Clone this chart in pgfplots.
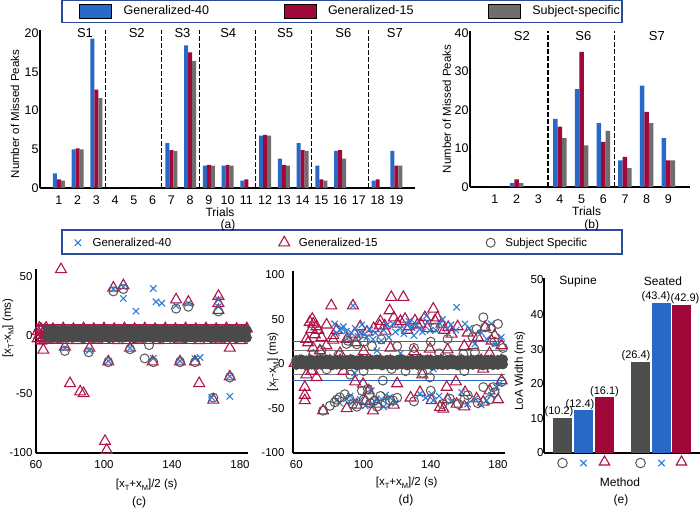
\documentclass[border=0pt]{standalone}
\usepackage{pgfplots}
\usepackage{pgfplotstable}
\pgfplotsset{compat=1.18}
\usepackage{fontspec}
\setmainfont{Liberation Sans}
\definecolor{blueC}{RGB}{40,105,200}
\definecolor{redC}{RGB}{160,8,58}
\definecolor{grayC}{RGB}{110,110,110}
\definecolor{grayE}{RGB}{78,78,78}
\definecolor{blueS}{RGB}{45,125,215}
\definecolor{redS}{RGB}{175,20,70}
\definecolor{grayS}{RGB}{88,88,88}
\definecolor{bandG}{RGB}{74,74,74}
\definecolor{frameC}{RGB}{45,75,155}
\newcommand\sub[1]{\raisebox{-0.45ex}{\fontsize{7.5}{8}\selectfont #1}}
\tikzset{
  redTri/.style={only marks, mark=triangle, mark size=6.3pt, color=redS, mark options={draw=redS, line width=1.1pt, fill=none}},
  blueX/.style={only marks, mark=x, mark size=4.5pt, color=blueS, mark options={draw=blueS, line width=1.1pt}},
  grayO/.style={only marks, mark=o, mark size=4.5pt, color=grayS, mark options={draw=grayS, line width=1pt, fill=none}},
  grayB/.style={only marks, mark=*, mark size=4.5pt, color=bandG, mark options={draw=bandG, fill=bandG, line width=1pt}},
}
\pgfplotsset{
  myaxis/.style={scale only axis, axis x line*=bottom, axis y line*=left,
    axis line style={-, line width=1.1pt, black},
    major tick length=0pt, clip=false,
    /pgf/number format/assume math mode=true,
    label style={font=\fontsize{11.5}{12}\selectfont}},
  patch legend/.style={legend image code/.code={\draw[##1] (0pt,-7pt) rectangle (32pt,7pt);}},
  mark legend/.style={legend image code/.code={\path (-6.5pt,0pt) (6.5pt,0pt); \draw[##1] plot coordinates {(0pt,0pt)};}},
}
\pgfplotstableread{
t g40 g15 ss
1 1.9 1.1 0.95
2 5.0 5.1 5.0
3 19.3 12.7 11.6
4 0 0 0
5 0 0 0
6 0 0 0
7 5.8 4.9 4.8
8 18.4 17.5 16.4
9 2.9 3.0 2.9
10 2.9 3.0 2.9
11 0.95 1.1 0
12 6.75 6.85 6.75
13 3.8 3.0 2.9
14 5.8 4.9 4.8
15 2.9 1.1 0.95
16 4.8 4.9 3.8
17 0 0 0
18 0.95 1.1 0
19 4.8 2.9 2.9
}\dataA
\pgfplotstableread{
t g40 g15 ss
1 0 0 0
2 1.0 2.0 1.0
3 0 0 0
4 17.7 15.7 12.7
5 25.4 35.1 10.8
6 16.6 11.7 14.6
7 6.9 7.8 4.9
8 26.3 19.5 16.6
9 12.7 6.9 6.9
}\dataB
\pgfplotstableread{
x t b
67 4 -2
70 4.6 -1.4
73 3.6 -2.6
76 4.2 -1.8
79 3.8 -2.2
82 4 -2
85 4.6 -1.4
88 3.6 -2.6
91 4.2 -1.8
94 3.8 -2.2
97 4 -2
100 4.6 -1.4
103 3.6 -2.6
106 4.2 -1.8
109 3.8 -2.2
112 4 -2
115 4.6 -1.4
118 3.6 -2.6
121 4.2 -1.8
124 3.8 -2.2
127 4 -2
130 4.6 -1.4
133 3.6 -2.6
136 4.2 -1.8
139 3.8 -2.2
142 4 -2
145 4.6 -1.4
148 3.6 -2.6
151 4.2 -1.8
154 3.8 -2.2
157 4 -2
160 4.6 -1.4
163 3.6 -2.6
166 4.2 -1.8
169 3.8 -2.2
172 4 -2
175 4.6 -1.4
178 3.6 -2.6
181 4.2 -1.8
184 3.8 -2.2
}\bandC
\pgfplotstableread{
x t b
60 4.5 -1
63 5.1 -0.4
66 4.1 -1.6
69 4.7 -0.8
72 4.3 -1.2
75 4.5 -1
78 5.1 -0.4
81 4.1 -1.6
84 4.7 -0.8
87 4.3 -1.2
90 4.5 -1
93 5.1 -0.4
96 4.1 -1.6
99 4.7 -0.8
102 4.3 -1.2
105 4.5 -1
108 5.1 -0.4
111 4.1 -1.6
114 4.7 -0.8
117 4.3 -1.2
120 4.5 -1
123 5.1 -0.4
126 4.1 -1.6
129 4.7 -0.8
132 4.3 -1.2
135 4.5 -1
138 5.1 -0.4
141 4.1 -1.6
144 4.7 -0.8
147 4.3 -1.2
150 4.5 -1
153 5.1 -0.4
156 4.1 -1.6
159 4.7 -0.8
162 4.3 -1.2
165 4.5 -1
168 5.1 -0.4
171 4.1 -1.6
174 4.7 -0.8
177 4.3 -1.2
180 4.5 -1
183 5.1 -0.4
}\bandD
\begin{document}
\begin{tikzpicture}[x=1pt,y=1pt]
\useasboundingbox (0,0) rectangle (700,509);
\draw[frameC, line width=1.3pt] (62,508.3) rectangle (622,486.5);
\draw[frameC, line width=1.3pt] (62,279) rectangle (622,255);

% ---------------- (a)
\begin{axis}[myaxis, at={(40pt,321pt)}, anchor=south west, width=375pt, height=158pt,
  xmin=0, xmax=20, ymin=0, ymax=20.4,
  xtick={1,...,19}, ytick={0,5,10,15,20},
  tick label style={font=\fontsize{12.5}{13}\selectfont},
  xticklabel style={yshift=-4.5pt}, yticklabel style={xshift=2pt},
  ylabel={Number of Missed Peaks},
  ylabel style={at={(axis description cs:-0.0667,0.468)}, anchor=center},
  xlabel={Trials},
  xlabel style={at={(axis description cs:0.48,-0.152)}, anchor=center, font=\fontsize{12}{12}\selectfont},
  legend style={at={(axis description cs:0.104,1.1203)}, anchor=west, draw=none, fill=none,
    legend columns=3, inner sep=0pt, nodes={inner sep=0pt, font=\fontsize{12.5}{13}\selectfont},
    /tikz/every odd column/.append style={column sep=12pt},
    /tikz/every even column/.append style={column sep=10pt}},
  legend cell align=left]
\addlegendimage{patch legend, fill=blueC, draw=none}
\addlegendentry{\makebox[150pt][l]{Generalized-40}}
\addlegendimage{patch legend, fill=redC, draw=none}
\addlegendentry{\makebox[150pt][l]{Generalized-15}}
\addlegendimage{patch legend, fill=grayC, draw=none}
\addlegendentry{\makebox[110pt][l]{Subject-specific}}
\addplot[ybar, bar width=4pt, bar shift=-4pt, fill=blueC, draw=none, forget plot] table[x=t,y=g40] {\dataA};
\addplot[ybar, bar width=4pt, bar shift=0pt, fill=redC, draw=none, forget plot] table[x=t,y=g15] {\dataA};
\addplot[ybar, bar width=4pt, bar shift=4pt, fill=grayC, draw=none, forget plot] table[x=t,y=ss] {\dataA};
\addplot[black, line width=1.1pt, dash pattern=on 4.5pt off 2.5pt, forget plot] coordinates {(3.5,0) (3.5,20.4)};
\addplot[black, line width=1.1pt, dash pattern=on 4.5pt off 2.5pt, forget plot] coordinates {(6.5,0) (6.5,20.4)};
\addplot[black, line width=1.1pt, dash pattern=on 4.5pt off 2.5pt, forget plot] coordinates {(8.5,0) (8.5,20.4)};
\addplot[black, line width=1.1pt, dash pattern=on 4.5pt off 2.5pt, forget plot] coordinates {(11.5,0) (11.5,20.4)};
\addplot[black, line width=1.1pt, dash pattern=on 4.5pt off 2.5pt, forget plot] coordinates {(14.5,0) (14.5,20.4)};
\addplot[black, line width=1.1pt, dash pattern=on 4.5pt off 2.5pt, forget plot] coordinates {(17.5,0) (17.5,20.4)};
\node[font=\fontsize{13}{13}\selectfont] at (axis cs:2.4,20) {S1};
\node[font=\fontsize{13}{13}\selectfont] at (axis cs:5.16,20) {S2};
\node[font=\fontsize{13}{13}\selectfont] at (axis cs:7.6,20) {S3};
\node[font=\fontsize{13}{13}\selectfont] at (axis cs:10.04,20) {S4};
\node[font=\fontsize{13}{13}\selectfont] at (axis cs:13.07,20) {S5};
\node[font=\fontsize{13}{13}\selectfont] at (axis cs:16.18,20) {S6};
\node[font=\fontsize{13}{13}\selectfont] at (axis cs:18.93,20) {S7};
\end{axis}
\node[font=\fontsize{12}{12}\selectfont] at (228,284) {(a)};

% ---------------- (b)
\begin{axis}[myaxis, at={(470pt,322pt)}, anchor=south west, width=220pt, height=156pt,
  xmin=-0.15, xmax=10, ymin=0, ymax=40.5,
  xtick={1,...,9}, ytick={0,10,20,30,40},
  tick label style={font=\fontsize{12.5}{13}\selectfont},
  xticklabel style={yshift=-4.5pt}, yticklabel style={xshift=2pt},
  ylabel={Number of Missed Peaks},
  ylabel style={at={(axis description cs:-0.106,0.5)}, anchor=center},
  xlabel={Trials},
  xlabel style={at={(axis description cs:0.53,-0.158)}, anchor=center, font=\fontsize{12}{12}\selectfont}]
\addplot[ybar, bar width=4.5pt, bar shift=-4.5pt, fill=blueC, draw=none] table[x=t,y=g40] {\dataB};
\addplot[ybar, bar width=4.5pt, bar shift=0pt, fill=redC, draw=none] table[x=t,y=g15] {\dataB};
\addplot[ybar, bar width=4.5pt, bar shift=4.5pt, fill=grayC, draw=none] table[x=t,y=ss] {\dataB};
\addplot[black, line width=1.1pt, dash pattern=on 4.5pt off 2.5pt] coordinates {(3.45,0) (3.45,40.4)};
\addplot[black, line width=1.1pt, dash pattern=on 4.5pt off 2.5pt] coordinates {(6.5,0) (6.5,40.4)};
\node[font=\fontsize{13}{13}\selectfont] at (axis cs:2.24,39.2) {S2};
\node[font=\fontsize{13}{13}\selectfont] at (axis cs:5.08,39.2) {S6};
\node[font=\fontsize{13}{13}\selectfont] at (axis cs:8.47,39.2) {S7};
\end{axis}
\node[font=\fontsize{12}{12}\selectfont] at (591.7,284) {(b)};

% ---------------- (c)
\begin{axis}[myaxis, at={(36pt,56pt)}, anchor=south west, width=212pt, height=184pt,
  xmin=60, xmax=184.7, ymin=-100, ymax=56,
  xtick={60,100,140,180}, ytick={-100,-50,0,50},
  tick label style={font=\fontsize{11.5}{12}\selectfont},
  xticklabel style={yshift=-4pt},
  ylabel={[x\sub{T}-x\sub{M}] (ms)},
  ylabel style={at={(axis description cs:-0.132,0.679)}, anchor=center},
  xlabel={[x\sub{T}+x\sub{M}]/2 (s)},
  xlabel style={at={(axis description cs:0.522,-0.174)}, anchor=center},
  legend style={at={(axis description cs:0.165,1.1467)}, anchor=west, draw=none, fill=none,
    legend columns=3, inner sep=0pt, nodes={inner sep=0pt, font=\fontsize{11.5}{12}\selectfont},
    /tikz/every odd column/.append style={column sep=8pt},
    /tikz/every even column/.append style={column sep=10pt}},
  legend cell align=left]
\addlegendimage{mark legend, blueX}
\addlegendentry{\makebox[175pt][l]{Generalized-40}}
\addlegendimage{mark legend, redTri}
\addlegendentry{\makebox[175pt][l]{Generalized-15}}
\addlegendimage{mark legend, grayO}
\addlegendentry{\makebox[100pt][l]{Subject Specific}}
\addplot[redTri, forget plot] coordinates {
(74.7,55.6) (64.3,-12.7) (77,-10) (80,-41) (86,-48) (88,-49.5) (91.4,-11) (100.6,-90) (101.6,-97.5)
(102.5,-22.6) (105.5,40) (111.4,42) (115.3,-11) (128.6,-22.6) (142.4,30) (144.7,-22.6) (149.6,28)
(153.5,-22.6) (156,-41) (164.3,-55) (167.3,33) (167.3,27) (167.3,21) (174,-11) (174,-35.3)
(61,3) (61,-3) (62,0) (63,5) (63,-5) (64,2) (64,-2) (65,4) (65,-4) (66,0) (67,3) (67,-3) (62,6) (66,6)
(70,5) (76,5.5) (82,5) (88,5.5) (94,5) (100,5.5) (106,5) (112,5.5) (118,5) (124,5.5) (130,5)
(136,5.5) (142,5) (148,5.5) (154,5) (160,5.5) (166,5) (172,5.5) (178,5) (184,5.5)
(72,-4) (84,-4.5) (96,-4) (108,-4.5) (120,-4) (132,-4.5) (144,-4) (156,-4.5) (168,-4) (180,-4.5)};
\addplot[blueX, forget plot] coordinates {
(77,-11) (91.4,-13) (102.5,-22) (105.5,39) (111.4,41) (111.4,31) (115.3,-11) (118.8,20.3) (129,39.5)
(129,-19.8) (130.6,28.2) (134,27) (142.4,25) (144.7,-22) (149.6,27) (153.5,-20) (156.5,-19)
(163.3,-53) (167.3,30) (167.3,24) (174,-35) (174,-52)};
\addplot[grayO, forget plot] coordinates {
(77,-13.5) (91,-14.6) (102.5,-23) (105.5,37) (111.4,39) (115.3,-12) (123.9,-19.8) (126.5,-8.5)
(129,-23) (142.4,22.4) (144.7,-23) (149.6,24) (153.5,-23) (164.3,-53) (167.3,20) (174,-36)};
\addplot[bandG, line width=10pt, forget plot] coordinates {(66.5,1) (184.5,1)};
\addplot[grayB, forget plot] table[x=x,y=t] {\bandC};
\addplot[grayB, forget plot] table[x=x,y=b] {\bandC};
\addplot[redS, line width=1.2pt, forget plot] coordinates {(60,8.8) (184.7,8.8)};
\addplot[redS, line width=1.2pt, forget plot] coordinates {(60,-7.3) (184.7,-7.3)};
\addplot[blueC, line width=1.4pt, forget plot] coordinates {(60,7.6) (184.7,7.6)};
\addplot[blueC, line width=1.4pt, forget plot] coordinates {(60,-5.6) (184.7,-5.6)};
\end{axis}
\node[font=\fontsize{12}{12}\selectfont] at (139,7) {(c)};

% ---------------- (d)
\begin{axis}[myaxis, at={(293pt,56pt)}, anchor=south west, width=212pt, height=182.5pt,
  xmin=58, xmax=184.2, ymin=-100, ymax=105,
  xtick={60,100,140,180}, ytick={-100,-50,0,50,100},
  tick label style={font=\fontsize{11.5}{12}\selectfont},
  xticklabel style={yshift=-4pt}, yticklabel style={xshift=-5pt},
  ylabel={[x\sub{T}-x\sub{M}] (ms)},
  ylabel style={at={(axis description cs:-0.094,0.5)}, anchor=center},
  xlabel={[x\sub{T}+x\sub{M}]/2 (s)},
  xlabel style={at={(axis description cs:0.536,-0.164)}, anchor=center}]
\addplot[redTri] coordinates {
(80.8,65.5) (93.7,65.5) (116.5,75) (123.7,75) (115.5,60) (141.5,61.8) (69.5,50.5) (70,45) (69,39)
(71,33) (67,24) (77.9,20.6) (82,32) (82,27) (65,-26) (65,-35) (65,-41) (75.9,-52.5) (105.6,-52.5)
(99.7,-22.5) (69,-8) (88,-8) (109.6,43) (112.6,43) (110,48) (113,37) (94.7,33.7) (95.3,24)
(124.7,50.5) (130.6,48.7) (136.5,52.4) (142.5,48.7) (146.4,45) (150.4,41.2) (152.4,33.7)
(139.5,16.9) (165.3,20.6) (172.3,41.2) (176.2,26) (182.1,20.6) (133.6,-31.8) (140.5,-41)
(145.5,-48.7) (149.5,-26) (155.4,-45) (160.4,-31.8) (167.3,-39) (171.2,-42.7) (182.2,-18.7)
(171.2,-5.6) (72,42) (68,47) (73,38) (120,45) (127,42) (134,45) (147.5,-50.6) (103,-30) (108,-45)
(75,30) (78,44) (84,38) (90,28) (98,42) (102,36) (106,40) (118,52) (122,48) (126,38) (132,44)
(138,40) (144,52) (148,38) (156,42) (162,35) (168,30) (178,32) (66,28) (70,18) (74,15) (86,12)
(100,14) (116,18) (130,14) (150,16) (160,20) (175,12) (66,-12) (72,-15) (95,-20) (120,-22)
(135,-12) (155,-20) (175,-30) (180,-40) (160,-48) (150,-40) (128,-38) (118,-46) (90,-50) (96,-46) (101,-42)
(59,1) (62,3) (65,1) (68,4) (74,4) (80,3.5) (86,4) (92,3.5) (98,4) (104,3.5) (110,4) (116,3.5)
(122,4) (128,3.5) (134,4) (140,3.5) (146,4) (152,3.5) (158,4) (164,3.5) (170,4) (176,3.5) (182,4)};
\addplot[blueX] coordinates {
(93.7,65.5) (155.4,63.7) (82.8,45) (85.8,38.6) (89.8,37) (92.7,35) (96.7,31) (100.7,33.7)
(103.6,38.6) (105.6,27.7) (110.6,26) (117.5,45) (122,40) (126,44) (128.6,41.2) (133.6,39.3)
(137.5,54) (139.5,37.5) (145.5,45) (150,40) (160.4,45) (166.3,22.5) (173.3,28) (178.2,22.5)
(83.8,-41) (89.8,-39) (93.7,-42.7) (104.6,-30) (107.6,-39) (111.5,-41) (115.5,-37.5) (94.7,-10)
(133.6,-33.7) (140.5,-33.7) (141.5,-41) (158.4,-31.8) (166.3,-39) (173.3,-41) (179.2,-26)
(141.5,-5.6) (112,-48) (105,-45) (87,40) (98,36) (115,30) (130,32)
(84,35) (88,42) (91,30) (95,40) (99,44) (102,30) (107,35) (112,38) (114,44) (119,36) (124,34)
(127,48) (131,45) (135,36) (138,47) (143,38) (147,50) (152,44) (155,38) (163,40) (170,35) (176,45)
(182,30) (86,-44) (92,-36) (98,-40) (101,-47) (109,-43) (113,-35) (119,-44) (137,-38) (145,-36)
(152,-42) (162,-45) (170,-46) (176,-35) (181,-22) (122,12) (150,8) (108,15)};
\addplot[grayO] coordinates {
(75.9,-52.5) (82.8,-43) (85.8,-37.5) (88.8,-34) (91.7,-39.3) (93.7,-45) (102.6,-28) (106.6,-41)
(103.6,-35) (117.5,-41) (111.5,-18.6) (110.6,27.7) (89.8,22.5) (70,11) (78,-6) (90.7,26)
(171.3,52.4) (172.3,41.2) (167.3,39.3) (159.4,11) (166.3,13) (139.5,-15) (151.4,-39) (156.4,-45)
(171.3,-26) (177.2,-26) (182.2,-20) (116.7,-5.6) (115.7,-41) (142.5,41) (108,-48) (113,-44)
(99,-30) (147,-45) (162,-35) (175,-40) (180,45) (176,40) (85,10) (100,-8) (125,-8) (145,12)
(80,-47) (84,-40) (96,-48) (100,-40) (104,-44) (110,-36) (120,-38) (130,-42) (140,-30) (160,-40)
(168,-44) (178,-32) (96,22) (100,25) (105,20) (120,20) (130,18) (140,25) (150,28) (165,30) (178,25)
(183,18) (75,15) (92,-12) (135,-10) (160,-8)};
\addplot[bandG, line width=6.5pt] coordinates {(59.5,1.75) (183.5,1.75)};
\addplot[grayB] table[x=x,y=t] {\bandD};
\addplot[grayB] table[x=x,y=b] {\bandD};
\addplot[blueC, line width=1.4pt] coordinates {(58,25.5) (184.2,25.5)};
\addplot[blueC, line width=1.4pt] coordinates {(58,-18.8) (184.2,-18.8)};
\addplot[grayS!80, line width=1.4pt] coordinates {(58,15.2) (184.2,15.2)};
\addplot[grayS!80, line width=1.4pt] coordinates {(58,-11.8) (184.2,-11.8)};
\end{axis}
\node[font=\fontsize{12}{12}\selectfont] at (406,9) {(d)};

% ---------------- (e)
\begin{axis}[myaxis, at={(544pt,56pt)}, anchor=south west, width=156pt, height=174.7pt,
  xmin=0, xmax=156, ymin=0, ymax=50.5,
  xtick=\empty, ytick={0,10,20,30,40,50},
  tick label style={font=\fontsize{11.5}{12}\selectfont},
  yticklabel style={xshift=3pt},
  ylabel={LoA Width (ms)},
  ylabel style={at={(axis description cs:-0.154,0.47)}, anchor=center},
  xlabel={Method},
  xlabel style={at={(axis description cs:0.487,-0.166)}, anchor=center, font=\fontsize{12}{12}\selectfont},
  every node near coord/.append style={font=\fontsize{11}{11}\selectfont, inner sep=0.5pt, anchor=south}]
\addplot[ybar, bar width=19pt, bar shift=0pt, fill=grayE, draw=none, nodes near coords, point meta=explicit symbolic, every node near coord/.append style={xshift=-3.5pt}] coordinates {(18.5,10.2) [(10.2)]};
\addplot[ybar, bar width=19pt, bar shift=0pt, fill=blueC, draw=none, nodes near coords, point meta=explicit symbolic, every node near coord/.append style={xshift=-3.5pt}] coordinates {(39.5,12.4) [(12.4)]};
\addplot[ybar, bar width=19pt, bar shift=0pt, fill=redC, draw=none, nodes near coords, point meta=explicit symbolic] coordinates {(60.5,16.1) [(16.1)]};
\addplot[ybar, bar width=19pt, bar shift=0pt, fill=grayE, draw=none, nodes near coords, point meta=explicit symbolic, every node near coord/.append style={xshift=-4.5pt}] coordinates {(96.5,26.4) [(26.4)]};
\addplot[ybar, bar width=19pt, bar shift=0pt, fill=blueC, draw=none, nodes near coords, point meta=explicit symbolic, every node near coord/.append style={xshift=-5.5pt}] coordinates {(117.5,43.4) [(43.4)]};
\addplot[ybar, bar width=19pt, bar shift=0pt, fill=redC, draw=none, nodes near coords, point meta=explicit symbolic, every node near coord/.append style={xshift=3.5pt}] coordinates {(137.5,42.9) [(42.9)]};
\addplot[grayO, mark size=4.8pt] coordinates {(18.5,-2.9) (96.5,-2.9)};
\addplot[blueX] coordinates {(39.5,-2.9) (117.5,-2.9)};
\addplot[redTri, mark size=6pt] coordinates {(60.5,-2.6) (137.5,-2.6)};
\node[font=\fontsize{12}{12}\selectfont] at (axis cs:34,49.7) {Supine};
\node[font=\fontsize{12}{12}\selectfont] at (axis cs:119,49.7) {Seated};
\end{axis}
\node[font=\fontsize{12}{12}\selectfont] at (621,9) {(e)};
\end{tikzpicture}
\end{document}
